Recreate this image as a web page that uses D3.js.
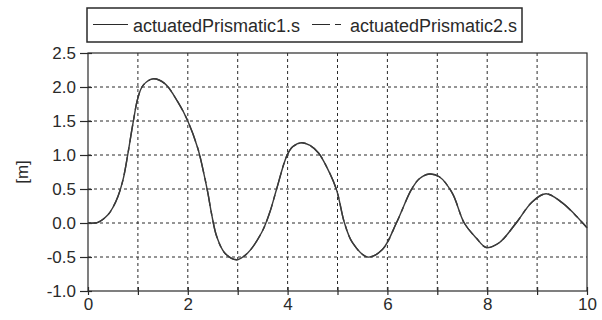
<!DOCTYPE html>
<html>
<head>
<meta charset="utf-8">
<script src="https://cdn.jsdelivr.net/npm/d3@7"></script>
<style>
  body { margin: 0; background: #fff; }
  svg { display: block; font-family: "Liberation Sans", Arial, sans-serif; }
</style>
</head>
<body>
<svg width="602" height="320"></svg>
<script>
// time [s] and position [m]
let time = [0, 0.2, 0.4, 0.5, 0.6, 0.7, 0.8, 0.9, 1.0, 1.1, 1.3, 1.54, 1.8, 2.0, 2.2, 2.3, 2.4, 2.48, 2.58, 2.74, 2.98, 3.2, 3.48, 3.64, 3.78, 3.98, 4.1, 4.28, 4.45, 4.62, 4.8, 4.98, 5.14, 5.3, 5.6, 5.9, 6.18, 6.48, 6.64, 6.84, 7.04, 7.3, 7.54, 7.78, 7.98, 8.24, 8.58, 8.9, 9.18, 9.5, 9.75, 10];
let s1 = [0, 0.01, 0.12, 0.23, 0.39, 0.63, 1.02, 1.46, 1.84, 2.02, 2.12, 2.05, 1.78, 1.5, 1.1, 0.8, 0.45, 0.12, -0.2, -0.44, -0.54, -0.44, -0.14, 0.15, 0.5, 0.98, 1.12, 1.18, 1.14, 1.03, 0.8, 0.49, 0.0, -0.29, -0.5, -0.39, 0.0, 0.49, 0.65, 0.72, 0.68, 0.44, 0.0, -0.22, -0.36, -0.29, 0.0, 0.31, 0.43, 0.30, 0.13, -0.07];
let s2 = s1.slice(); // second signal lies on top of the first
let seriesNames = ["actuatedPrismatic1.s", "actuatedPrismatic2.s"];
let xTicks = [0, 1, 2, 3, 4, 5, 6, 7, 8, 9, 10];
let yTicks = [-1.0, -0.5, 0.0, 0.5, 1.0, 1.5, 2.0, 2.5];

let svg = d3.select("svg");
let margin = {top: 53, right: 15, bottom: 29, left: 88};
let width = 602, height = 320;
let ink = "#2a2a2a";

let x = d3.scaleLinear()
	.domain([0, 10])
	.range([margin.left, width - margin.right]);

let y = d3.scaleLinear()
	.domain([-1, 2.5])
	.range([height - margin.bottom, margin.top]);

// grid
let grid = svg.append("g")
	.attr("stroke", ink)
	.attr("stroke-width", 1)
	.attr("stroke-dasharray", "3,3");
grid.selectAll("line.v").data(xTicks.slice(1, -1)).enter().append("line")
	.attr("x1", d => x(d)).attr("x2", d => x(d))
	.attr("y1", y(2.5)).attr("y2", y(-1));
grid.selectAll("line.h").data(yTicks.slice(1, -1)).enter().append("line")
	.attr("y1", d => y(d)).attr("y2", d => y(d))
	.attr("x1", x(0)).attr("x2", x(10));

// frame
svg.append("rect")
	.attr("x", x(0)).attr("y", y(2.5))
	.attr("width", x(10) - x(0)).attr("height", y(-1) - y(2.5))
	.attr("fill", "none").attr("stroke", ink).attr("stroke-width", 1.2);

let xAxis = g => g
	.attr("transform", `translate(0,${y(-1)})`)
	.call(d3.axisBottom(x)
		.tickValues(xTicks)
		.tickSizeInner(4)
		.tickSizeOuter(0)
		.tickPadding(3)
		.tickFormat(d => d % 2 === 0 ? d : ""))
	.call(g => g.select(".domain").remove())
	.call(g => g.selectAll(".tick line").attr("y1", -4));

let yAxis = g => g
	.attr("transform", `translate(${x(0)},0)`)
	.call(d3.axisLeft(y)
		.tickValues(yTicks)
		.tickSizeInner(8)
		.tickSizeOuter(0)
		.tickPadding(4)
		.tickFormat(d => d.toFixed(1)))
	.call(g => g.select(".domain").remove())
	.call(g => g.selectAll(".tick line").attr("x1", 4));

[xAxis, yAxis].forEach(a => svg.append("g").call(a)
	.call(g => g.selectAll(".tick line").attr("stroke", ink).attr("stroke-width", 1.2))
	.call(g => g.selectAll(".tick text").attr("fill", ink).attr("font-size", 17)));

svg.append("text")
	.attr("transform", `translate(28,${(y(2.5) + y(-1)) / 2}) rotate(-90)`)
	.attr("text-anchor", "middle")
	.attr("fill", ink)
	.attr("font-size", 17)
	.text("[m]");

// curves
let line = d3.line()
	.x(d => x(d[0]))
	.y(d => y(d[1]))
	.curve(d3.curveCatmullRom);

svg.append("path")
	.datum(time.map((t, i) => [t, s1[i]]))
	.attr("d", line)
	.attr("fill", "none").attr("stroke", "#3a3a3a").attr("stroke-width", 1.4);

svg.append("path")
	.datum(time.map((t, i) => [t, s2[i]]))
	.attr("d", line)
	.attr("fill", "none").attr("stroke", "#3a3a3a").attr("stroke-width", 1.4)
	.attr("stroke-dasharray", "18,5,5,5");

// legend
let legend = svg.append("g");
legend.append("rect")
	.attr("x", 87).attr("y", 8).attr("width", 435).attr("height", 34)
	.attr("fill", "#fff").attr("stroke", ink).attr("stroke-width", 1.5);
legend.append("line")
	.attr("x1", 93).attr("x2", 128).attr("y1", 24.5).attr("y2", 24.5)
	.attr("stroke", ink).attr("stroke-width", 1.2);
legend.append("line")
	.attr("x1", 312).attr("x2", 341).attr("y1", 24.5).attr("y2", 24.5)
	.attr("stroke", ink).attr("stroke-width", 1.2)
	.attr("stroke-dasharray", "18,5,6,50");
legend.selectAll("text").data(seriesNames).enter().append("text")
	.attr("x", (d, i) => i === 0 ? 133 : 350)
	.attr("y", 32)
	.attr("fill", ink)
	.attr("font-size", 18)
	.text(d => d);
</script>
</body>
</html>
